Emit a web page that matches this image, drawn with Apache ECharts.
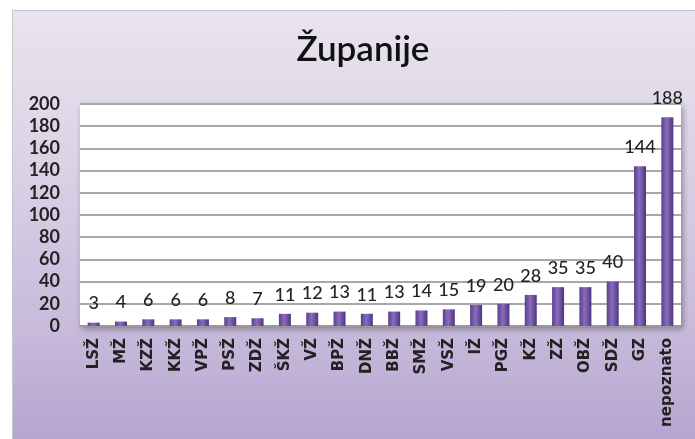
<!DOCTYPE html>
<html><head><meta charset="utf-8">
<script src="https://cdn.jsdelivr.net/npm/echarts@6/dist/echarts.min.js"></script>
<style>
html,body{margin:0;padding:0;background:#fff;width:695px;height:439px;overflow:hidden;}
#c{position:absolute;left:12px;top:10px;width:700px;height:440px;border:1px solid #c8c4cc;box-sizing:border-box;
background:linear-gradient(to bottom,#e9e4ef 0%,#ddd5e7 30%,#c9bcdc 70%,#b5a3cf 100%);}
</style></head>
<body><div id="c"></div>
<script>
const categories = ['LSŽ','MŽ','KZŽ','KKŽ','VPŽ','PSŽ','ZDŽ','ŠKŽ','VŽ','BPŽ','DNŽ','BBŽ','SMŽ','VSŽ','IŽ','PGŽ','KŽ','ZŽ','OBŽ','SDŽ','GZ','nepoznato'];
const values = [3,4,6,6,6,8,7,11,12,13,11,13,14,15,19,20,28,35,35,40,144,188];
const yTicks = [0,20,40,60,80,100,120,140,160,180,200];
const titleText = 'Županije';

const chart = echarts.init(document.getElementById('c'), null, {renderer:'canvas'});
const font = 'Lato, "Open Sans", sans-serif';
chart.setOption({
  backgroundColor: 'transparent',
  animation: false,
  title: {text: titleText, left: 345, textAlign: 'center', top: 16, textStyle:{fontFamily: font, fontSize: 35, fontWeight: 600, color:'#111'}},
  grid: {left: 67, top: 93, width: 601, height: 222, show: true, backgroundColor: '#fff', borderWidth: 0,
         outerBoundsMode: 'none',
         shadowBlur: 6, shadowColor: 'rgba(0,0,0,0.35)', shadowOffsetX: 2, shadowOffsetY: 3},
  xAxis: {type:'category', data: categories,
    axisLine:{show:true, lineStyle:{color:'#9a9a9a', width:2}}, axisTick:{show:false},
    axisLabel:{rotate:90, interval:0, margin:12, overflow:'none', hideOverlap:false, fontFamily: '"DejaVu Sans", sans-serif', fontWeight:'bold', fontSize:15, color:'#222'}},
  yAxis: {type:'value', min: yTicks[0], max: yTicks[yTicks.length-1], interval: 20,
    axisLine:{show:false}, axisTick:{show:false},
    splitLine:{lineStyle:{color:'#a8a8a8', width:2}},
    axisLabel:{margin:20, fontFamily: font, fontWeight:'bold', fontSize:18, color:'#222'}},
  series: [{type:'bar', data: values, barWidth: 12,
    itemStyle:{color: new echarts.graphic.LinearGradient(0,0,1,0,[
      {offset:0,color:'#5b3f8c'},{offset:0.45,color:'#8a6bbd'},{offset:1,color:'#4e3480'}])},
    label:{show:true, position:'top', distance:10, fontFamily: font, fontSize:18, fontWeight:500, color:'#222'}}]
});
</script></body></html>
